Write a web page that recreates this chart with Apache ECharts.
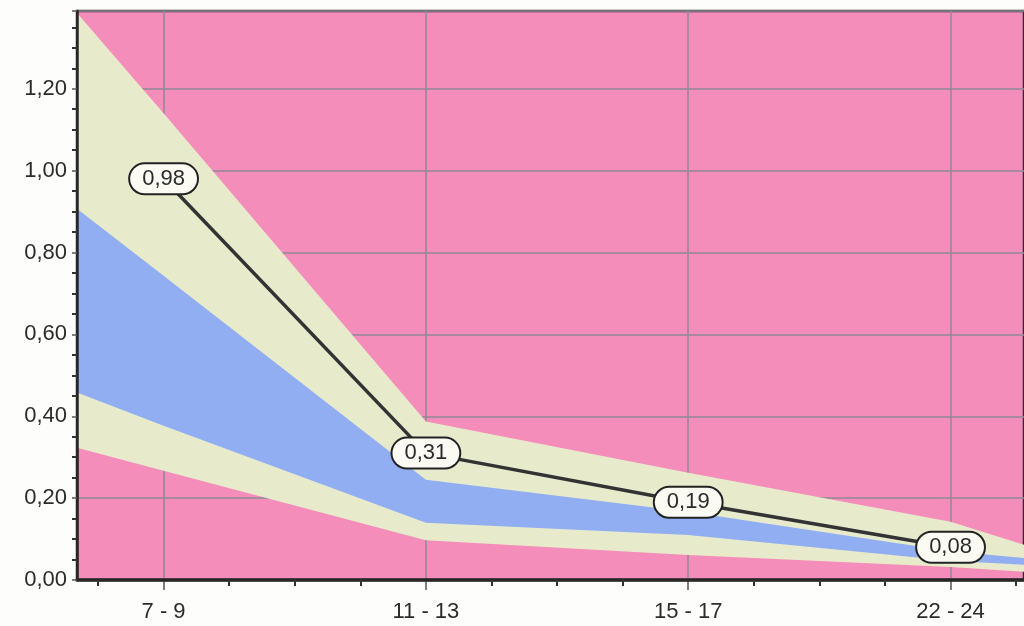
<!DOCTYPE html>
<html><head><meta charset="utf-8">
<script src="https://cdn.jsdelivr.net/npm/echarts@6/dist/echarts.min.js"></script>
<style>html,body{margin:0;padding:0;background:#fdfdfb;} #c{width:1024px;height:626px;}</style>
</head><body><div id="c"></div>
<script>
// ---- data ----
const categories = ['7 - 9', '11 - 13', '15 - 17', '22 - 24'];
const medianValues = [0.98, 0.31, 0.19, 0.08];
const yTickStep = 0.2;
// band boundaries read at: left plot edge, 7-9, 11-13, 15-17, 22-24, right plot edge
const X_MIN = -0.33, X_MAX = 3.28;
const bandPositions = [X_MIN, 0, 1, 2, 3, X_MAX];
const upperOuter = [1.385, 1.14, 0.387, 0.262, 0.142, 0.086];
const upperInner = [0.907, 0.743, 0.245, 0.167, 0.070, 0.054];
const lowerInner = [0.458, 0.377, 0.140, 0.110, 0.047, 0.037];
const lowerOuter = [0.323, 0.267, 0.097, 0.061, 0.032, 0.020];

const FONT = '"Liberation Sans", Arial, sans-serif';
const fmt = v => v.toFixed(2).replace('.', ',');
const majorX = categories.map((c, i) => i);
const minorX = [];
for (let q = Math.ceil(X_MIN * 4); q <= Math.floor(X_MAX * 4); q++) { if (q % 4 !== 0) minorX.push(q / 4); }

function band(upper, lower, color, z) {
  return {
    type: 'custom', coordinateSystem: 'cartesian2d', xAxisIndex: 0, yAxisIndex: 0,
    silent: true, z: z, clip: true,
    data: [[0, 0]],
    renderItem: function (params, api) {
      const pts = [];
      for (let i = 0; i < bandPositions.length; i++) pts.push(api.coord([bandPositions[i], upper[i]]));
      for (let i = bandPositions.length - 1; i >= 0; i--) pts.push(api.coord([bandPositions[i], lower[i]]));
      return { type: 'polygon', shape: { points: pts }, style: { fill: color } };
    }
  };
}

const gridLine = { show: true, lineStyle: { color: '#8e8a96', width: 1.5 } };
const chart = echarts.init(document.getElementById('c'));
chart.setOption({
  animation: false,
  backgroundColor: '#fdfdfb',
  grid: { left: 77, right: -2, top: 11, bottom: 46, show: true,
          backgroundColor: '#F48DBA', borderColor: '#2e2e2e', borderWidth: 2.5 },
  xAxis: [{
    type: 'value', min: X_MIN, max: X_MAX, position: 'bottom',
    axisLine: { show: false, onZero: false },
    axisTick: { show: true, customValues: majorX, length: 10, lineStyle: { color: '#555', width: 1.5 } },
    axisLabel: { show: true, customValues: majorX, margin: 21, fontSize: 22, color: '#2b2b2b', fontFamily: FONT,
                 formatter: v => categories[Math.round(v)] },
    splitLine: gridLine
  }, {
    type: 'value', min: X_MIN, max: X_MAX, position: 'bottom', z: 10,
    axisLine: { show: true, onZero: false, lineStyle: { color: '#262626', width: 3.5 } },
    axisTick: { show: true, customValues: minorX, length: 6, lineStyle: { color: '#333', width: 2 } },
    axisLabel: { show: false },
    splitLine: { show: false }
  }],
  yAxis: [{
    type: 'value', min: 0, max: 1.39, interval: yTickStep, position: 'left',
    axisLine: { show: false, onZero: false },
    axisTick: { show: false },
    axisLabel: { margin: 10, fontSize: 22, color: '#2b2b2b', fontFamily: FONT, showMaxLabel: false,
                 formatter: v => fmt(v) },
    splitLine: gridLine
  }, {
    type: 'value', min: 0, max: 1.39, interval: yTickStep, position: 'left', z: 10,
    axisLine: { show: true, onZero: false, lineStyle: { color: '#262626', width: 2.5 } },
    axisTick: { show: true, length: 5, lineStyle: { color: '#555', width: 1.5 } },
    minorTick: { show: true, splitNumber: 4, length: 5, lineStyle: { color: '#333', width: 2 } },
    axisLabel: { show: false },
    splitLine: { show: false }
  }],
  series: [
    band(upperOuter, lowerOuter, '#E7EBCC', 2),
    band(upperInner, lowerInner, '#92AEF2', 3),
    {
      type: 'line', z: 5, xAxisIndex: 0, yAxisIndex: 0,
      data: medianValues.map((v, i) => [i, v]),
      symbol: 'circle', symbolSize: 1, itemStyle: { color: '#333' },
      lineStyle: { color: '#333', width: 3.5 },
      label: { show: true, position: 'inside', formatter: p => fmt(p.value[1]),
               fontSize: 22, fontFamily: FONT, color: '#2b2b2b',
               backgroundColor: '#FBFBF4', borderColor: '#222', borderWidth: 2,
               borderRadius: 15, padding: [4, 12, 3, 12] }
    }
  ]
});
</script></body></html>
